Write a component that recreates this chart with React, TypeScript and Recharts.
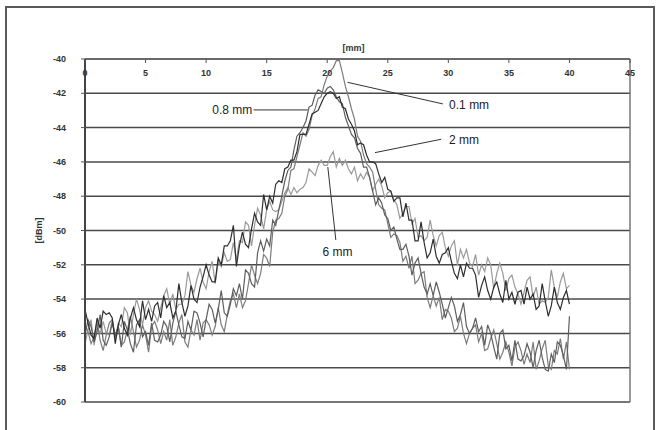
import React from "react";
import {
  LineChart,
  Line,
  XAxis,
  YAxis,
  CartesianGrid,
  ReferenceLine,
  ReferenceDot,
} from "recharts";

// sample spacing along the scan, mm
const X_STEP = 0.25;

const X_TICKS = [0, 5, 10, 15, 20, 25, 30, 35, 40, 45];
const Y_TICKS = [-60, -58, -56, -54, -52, -50, -48, -46, -44, -42, -40];

// received level [dBm], one value every 0.25 mm from 0 to 40 mm
const S01 = [
  -55.5, -55.9, -56.6, -56.2, -55.3, -56.4, -57.0, -56.1,
  -55.4, -55.2, -56.2, -55.6, -56.7, -56.5, -55.8, -55.0,
  -55.9, -56.8, -56.4, -55.5, -56.1, -57.1, -55.6, -55.3,
  -55.8, -56.6, -55.9, -56.4, -55.2, -56.7, -56.2, -55.4,
  -54.9, -56.5, -56.8, -55.8, -56.1, -55.2, -56.4, -55.4,
  -55.2, -55.5, -56.1, -55.6, -54.5, -55.5, -55.9, -54.9,
  -54.1, -53.7, -54.5, -53.7, -54.5, -54.1, -53.1, -52.0,
  -52.6, -53.1, -52.5, -51.4, -51.6, -52.1, -50.1, -49.4,
  -49.3, -49.0, -48.0, -47.6, -46.5, -46.4, -45.7, -45.0,
  -44.3, -44.5, -44.1, -43.3, -42.9, -42.3, -42.2, -41.5,
  -41.0, -40.7, -40.5, -40.1, -40.1, -40.8, -41.6, -42.2,
  -42.9, -43.5, -44.5, -44.8, -45.6, -46.1, -46.3, -46.6,
  -47.6, -48.5, -48.7, -48.8, -49.6, -50.4, -50.2, -50.3,
  -50.7, -51.8, -51.5, -52.2, -51.5, -53.1, -52.9, -52.5,
  -52.4, -53.9, -54.5, -53.8, -54.4, -53.9, -55.2, -54.6,
  -54.7, -55.1, -55.9, -55.7, -55.0, -56.0, -56.6, -56.0,
  -55.7, -55.5, -56.5, -56.0, -57.0, -56.9, -56.3, -55.8,
  -56.6, -57.5, -57.1, -56.5, -57.1, -57.9, -56.8, -56.5,
  -57.0, -57.8, -57.2, -57.7, -56.5, -58.1, -57.6, -56.9,
  -56.4, -57.9, -58.1, -57.0, -57.2, -56.3, -57.5, -56.5,
  -58.1,
];

const S08 = [
  -56.1, -55.2, -55.6, -56.5, -55.9, -54.9, -56.4, -56.7,
  -56.2, -55.4, -56.1, -55.6, -56.8, -55.3, -55.8, -56.6,
  -57.1, -55.5, -55.2, -56.2, -55.9, -56.7, -55.4, -56.4,
  -56.5, -56.1, -55.3, -55.6, -56.5, -55.4, -54.7, -55.5,
  -56.2, -56.3, -55.3, -55.8, -54.7, -54.8, -55.4, -56.2,
  -55.2, -54.3, -54.6, -55.4, -54.6, -53.5, -54.8, -55.0,
  -54.3, -53.4, -53.8, -53.1, -54.0, -52.3, -52.5, -53.1,
  -53.3, -51.3, -50.6, -51.2, -50.5, -50.9, -49.4, -49.7,
  -48.8, -48.0, -47.1, -46.5, -46.3, -45.3, -44.5, -44.3,
  -44.0, -43.6, -42.8, -42.7, -42.1, -41.8, -41.9, -42.0,
  -41.7, -41.6, -41.8, -42.2, -42.5, -42.6, -43.4, -43.9,
  -44.4, -44.6, -45.2, -45.5, -46.3, -46.3, -46.9, -47.7,
  -48.5, -48.1, -48.4, -49.1, -49.3, -50.0, -49.8, -50.5,
  -51.1, -51.1, -50.8, -51.5, -52.6, -51.9, -51.6, -52.5,
  -53.3, -53.7, -53.1, -53.8, -53.0, -53.6, -54.3, -55.1,
  -54.5, -53.9, -54.4, -55.3, -54.9, -54.2, -55.6, -56.0,
  -55.7, -55.1, -55.9, -55.6, -56.7, -55.5, -56.0, -56.8,
  -57.5, -56.0, -55.8, -56.9, -56.7, -57.6, -56.4, -57.5,
  -57.6, -57.3, -56.6, -57.1, -58.0, -57.0, -56.4, -57.4,
  -58.1, -58.2, -57.2, -57.7, -56.5, -56.7, -57.3, -58.1,
  -55.0,
];

const S2 = [
  -54.6, -55.4, -56.1, -56.3, -55.1, -55.7, -54.7, -54.9,
  -54.8, -55.1, -56.6, -55.5, -54.9, -55.7, -56.1, -55.1,
  -54.5, -55.2, -55.6, -54.1, -55.2, -54.6, -55.3, -54.4,
  -54.2, -55.1, -53.8, -54.5, -54.2, -55.1, -54.7, -53.1,
  -54.2, -55.0, -54.4, -53.2, -54.0, -54.2, -53.3, -52.7,
  -52.0, -52.6, -53.0, -53.0, -51.6, -52.0, -50.9, -50.9,
  -50.6, -49.7, -52.1, -50.9, -50.1, -50.8, -51.0, -49.9,
  -49.0, -49.5, -49.7, -47.9, -48.8, -48.0, -48.4, -47.3,
  -47.1, -47.2, -46.4, -46.3, -45.9, -45.9, -45.4, -44.4,
  -44.4, -44.4, -43.8, -43.2, -43.1, -43.0, -42.6, -42.2,
  -42.0, -41.9, -42.0, -42.3, -42.2, -42.8, -42.9, -43.5,
  -43.8, -44.2, -45.0, -44.9, -45.0, -45.6, -46.0, -46.0,
  -46.1, -46.7, -47.2, -46.9, -47.6, -47.7, -48.3, -48.1,
  -48.1, -49.2, -48.4, -49.4, -49.4, -50.6, -50.6, -49.5,
  -50.7, -51.6, -51.3, -50.5, -51.5, -51.9, -51.4, -51.3,
  -51.0, -51.8, -52.5, -52.8, -52.0, -52.7, -51.9, -52.2,
  -52.2, -52.6, -53.9, -53.2, -52.7, -53.5, -54.0, -53.3,
  -53.0, -53.7, -54.2, -52.9, -54.0, -53.6, -54.3, -53.6,
  -53.5, -54.3, -53.3, -54.0, -53.7, -54.6, -54.4, -53.1,
  -54.1, -55.0, -54.4, -53.3, -54.2, -54.6, -53.9, -53.5,
  -54.3,
];

const S6 = [
  -56.6, -55.8, -55.2, -56.7, -55.6, -56.0, -55.3, -56.0,
  -56.1, -55.2, -56.3, -55.4, -55.6, -54.5, -54.8, -56.1,
  -54.9, -54.0, -54.6, -55.5, -54.5, -54.1, -54.7, -54.9,
  -55.3, -54.5, -53.8, -53.4, -54.3, -53.7, -54.6, -54.3,
  -54.3, -53.8, -52.4, -53.2, -53.6, -52.8, -52.2, -53.0,
  -53.4, -52.4, -51.8, -53.1, -51.8, -52.1, -51.3, -51.8,
  -51.7, -50.7, -51.7, -50.6, -50.7, -49.5, -49.7, -50.9,
  -49.7, -48.7, -49.1, -49.9, -48.8, -48.3, -48.8, -48.9,
  -48.8, -48.3, -47.8, -47.5, -47.9, -47.5, -47.8, -47.6,
  -47.5, -47.2, -46.4, -46.6, -46.8, -46.2, -45.9, -46.2,
  -46.2, -45.7, -45.4, -46.3, -45.8, -46.2, -45.9, -46.4,
  -46.7, -46.3, -47.1, -46.7, -47.0, -46.6, -46.9, -47.7,
  -47.3, -47.0, -47.4, -48.1, -47.8, -47.7, -48.2, -48.5,
  -49.3, -49.0, -48.6, -48.6, -49.6, -49.3, -50.4, -50.3,
  -50.6, -50.4, -49.4, -50.3, -50.9, -50.3, -50.1, -51.0,
  -51.5, -50.9, -50.6, -52.0, -51.1, -51.6, -51.1, -51.9,
  -52.1, -51.4, -52.6, -52.0, -52.4, -51.6, -52.0, -53.4,
  -52.5, -51.9, -52.5, -53.5, -52.8, -52.6, -53.3, -53.7,
  -54.3, -53.6, -52.9, -52.7, -53.9, -53.3, -54.3, -54.1,
  -54.2, -53.9, -52.3, -53.3, -53.9, -53.0, -52.5, -53.4,
  -53.2,
];

const data = S01.map((v, i) => ({
  x: i * X_STEP,
  s01: v,
  s08: S08[i],
  s2: S2[i],
  s6: S6[i],
}));

const FONT = "'Liberation Sans', Arial, sans-serif";

const TopTick = (props: any) => {
  const { x, y, payload } = props;
  return (
    <g>
      <line x1={x} y1={y} x2={x} y2={y + 4} stroke="#555" strokeWidth={1} />
      <text
        x={x}
        y={y + 17}
        textAnchor="middle"
        fontSize={9}
        fontWeight="bold"
        fill="#333"
        fontFamily={FONT}
      >
        {payload.value}
      </text>
    </g>
  );
};

const DbmLabel = (props: any) => {
  const vb = props.viewBox;
  const cx = vb.x - 6;
  const cy = vb.y + vb.height / 2;
  return (
    <text
      x={cx}
      y={cy}
      transform={`rotate(-90, ${cx}, ${cy})`}
      textAnchor="middle"
      dominantBaseline="central"
      fontSize={9}
      fontWeight="bold"
      fill="#333"
      fontFamily={FONT}
    >
      [dBm]
    </text>
  );
};

const noteStyle = { fontSize: 12, fill: "#222", fontFamily: FONT };

export default function App() {
  return (
    <div style={{ position: "absolute", left: 0, top: 0, width: 663, height: 430, overflow: "hidden", background: "#fff" }}>
      <div
        style={{
          position: "absolute",
          left: 5,
          top: 6,
          width: 650,
          height: 440,
          border: "2px solid #5a5a5a",
          boxSizing: "border-box",
        }}
      />
      <div style={{ position: "absolute", left: 0, top: 0 }}>
        <LineChart
          width={663}
          height={430}
          data={data}
          margin={{ top: 39, right: 33, bottom: 28, left: 45 }}
        >
          <CartesianGrid vertical={false} stroke="#4a4a4a" strokeWidth={1.5} />
          <XAxis
            dataKey="x"
            type="number"
            orientation="top"
            domain={[0, 45]}
            ticks={X_TICKS}
            interval={0}
            height={20}
            tickSize={0}
            tickMargin={0}
            tickLine={false}
            tick={<TopTick />}
            axisLine={{ stroke: "#666", strokeWidth: 1.5 }}
            label={{
              value: "[mm]",
              position: "insideTop",
              offset: 6,
              dx: -4,
              fontSize: 9,
              fontWeight: "bold",
              fill: "#333",
              fontFamily: FONT,
            }}
          />
          <YAxis
            type="number"
            domain={[-60, -40]}
            ticks={Y_TICKS}
            interval={0}
            width={40}
            tickSize={4}
            tickMargin={15}
            tickLine={{ stroke: "#555" }}
            axisLine={{ stroke: "#444", strokeWidth: 2 }}
            tick={{ fontSize: 9, fontWeight: "bold", fill: "#333", fontFamily: FONT }}
            label={<DbmLabel />}
          />
          <ReferenceLine x={45} stroke="#777" strokeWidth={1.5} />

          <Line dataKey="s6" type="linear" stroke="#9a9a9a" strokeWidth={1.2} dot={false} isAnimationActive={false} />
          <Line dataKey="s01" type="linear" stroke="#7c7c7c" strokeWidth={1.2} dot={false} isAnimationActive={false} />
          <Line dataKey="s08" type="linear" stroke="#5e5e5e" strokeWidth={1.2} dot={false} isAnimationActive={false} />
          <Line dataKey="s2" type="linear" stroke="#2e2e2e" strokeWidth={1.2} dot={false} isAnimationActive={false} />

          <ReferenceLine segment={[{ x: 21.68, y: -41.36 }, { x: 29.55, y: -42.62 }]} stroke="#333" strokeWidth={1} />
          <ReferenceLine segment={[{ x: 23.94, y: -45.46 }, { x: 29.41, y: -44.68 }]} stroke="#333" strokeWidth={1} />
          <ReferenceLine segment={[{ x: 13.92, y: -42.97 }, { x: 18.39, y: -42.97 }]} stroke="#333" strokeWidth={1} />
          <ReferenceLine segment={[{ x: 20.05, y: -46.3 }, { x: 20.71, y: -50.55 }]} stroke="#333" strokeWidth={1} />

          <ReferenceDot x={29.9} y={-42.68} r={0} fill="none" stroke="none" label={{ value: "0.1 mm", position: "right", offset: 2, ...noteStyle }} />
          <ReferenceDot x={29.9} y={-44.72} r={0} fill="none" stroke="none" label={{ value: "2 mm", position: "right", offset: 2, ...noteStyle }} />
          <ReferenceDot x={13.9} y={-42.97} r={0} fill="none" stroke="none" label={{ value: "0.8 mm", position: "left", offset: 1, ...noteStyle }} />
          <ReferenceDot x={20.85} y={-51.25} r={0} fill="none" stroke="none" label={{ value: "6 mm", position: "center", ...noteStyle }} />
        </LineChart>
      </div>
    </div>
  );
}
